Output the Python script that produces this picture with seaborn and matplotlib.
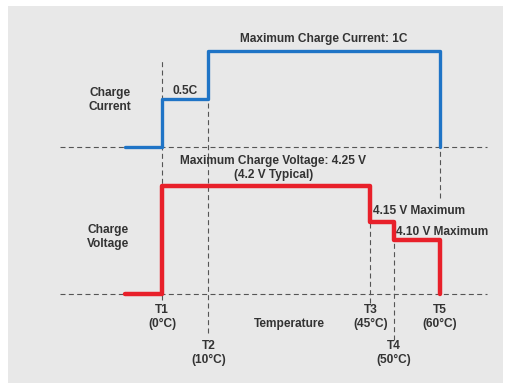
import matplotlib
matplotlib.use("Agg")
import matplotlib.pyplot as plt
import seaborn as sns
import pandas as pd
from matplotlib.patches import Rectangle

# === Datos ===
t_puntos = [0, 10, 45, 50, 60]
t_nombres = ["T1", "T2", "T3", "T4", "T5"]
t_etiquetas = ["(0°C)", "(10°C)", "(45°C)", "(50°C)", "(60°C)"]

corriente_t = [-8, 0, 10, 60]
corriente_c = [0, 0.5, 1, 0]

voltaje_t = [-8, 0, 45, 50, 60]
voltaje_v = [3.95, 4.25, 4.15, 4.10, 3.95]
voltaje_base = 3.95

df_c = pd.DataFrame({"T": corriente_t, "C": corriente_c})
df_v = pd.DataFrame({"T": voltaje_t, "V": voltaje_v})

# === Estilo ===
sns.set_theme(style="white")
plt.rcParams["font.family"] = ["Liberation Sans", "DejaVu Sans"]

W, H = 510, 392
fig = plt.figure(figsize=(W / 100, H / 100), dpi=100)
fig.patches.append(Rectangle((8 / W, 1 - 383 / H), 495 / W, 377 / H,
                             transform=fig.transFigure, facecolor="#e8e8e8",
                             edgecolor="none", zorder=-5))

ax_c = fig.add_axes([0, 0, 1, 1])
ax_v = fig.add_axes([0, 0, 1, 1])
for ax in (ax_c, ax_v):
    ax.set_xlim(-35.0, 75.16)
    ax.patch.set_alpha(0)
ax_c.set_ylim(-2.552, 1.53125)
ax_v.set_ylim(3.6778, 4.7667)

def fy(p):
    return 1 - p / H

gris = "#555555"
guion = (0, (4.5, 3))
txt = dict(fontsize=8.6, fontweight="bold", color="#333333")

# líneas base punteadas
ax_c.hlines(0, -22, 70.2, colors=gris, linestyles=guion, lw=0.8, zorder=1)
ax_v.hlines(voltaje_base, -22, 70.2, colors=gris, linestyles=guion, lw=0.8, zorder=1)

# guías verticales
guias = [(60, 300), (98, 333), (220, 303), (241, 340), (147, 198)]
for t, (p0, p1) in zip(t_puntos, guias):
    ax_c.axvline(t, ymin=fy(p1), ymax=fy(p0), color=gris, ls=guion, lw=0.8, zorder=1)

# === Curvas ===
sns.lineplot(data=df_c, x="T", y="C", ax=ax_c, sort=False, estimator=None,
             drawstyle="steps-post", color="#1f74c6", lw=2.4, zorder=3)
sns.lineplot(data=df_v, x="T", y="V", ax=ax_v, sort=False, estimator=None,
             drawstyle="steps-post", color="#e8202a", lw=3.2, zorder=3)
ax_c.set_xlim(-35.0, 75.16)
ax_v.set_xlim(-35.0, 75.16)
ax_c.set_ylim(-2.552, 1.53125)
ax_v.set_ylim(3.6778, 4.7667)
ax_c.axis("off")
ax_v.axis("off")

tr = ax_c.get_xaxis_transform()

# === Textos ===
ax_c.text(35, fy(39), "Maximum Charge Current: 1C", ha="center", va="center", transform=tr, **txt)
ax_c.text(5, fy(91), "0.5C", ha="center", va="center", transform=tr, **txt)
ax_c.text(-11.2, fy(100), "Charge\nCurrent", ha="center", va="center", transform=tr, **txt)
ax_c.text(24, fy(168), "Maximum Charge Voltage: 4.25 V\n(4.2 V Typical)", ha="center",
          va="center", multialignment="center", transform=tr, **txt)
ax_c.text(-11.7, fy(237), "Charge\nVoltage", ha="center", va="center", transform=tr, **txt)
ax_c.text(45.6, fy(211), "4.15 V Maximum", ha="left", va="center", transform=tr, **txt)
ax_c.text(50.5, fy(232), "4.10 V Maximum", ha="left", va="center", transform=tr, **txt)
ax_c.text(27.4, fy(324), "Temperature", ha="center", va="center", transform=tr, **txt)

for i, (t, n, e) in enumerate(zip(t_puntos, t_nombres, t_etiquetas)):
    p = 317 if i % 2 == 0 else 353
    ax_c.text(t, fy(p), n + "\n" + e, ha="center", va="center", transform=tr, **txt)

fig.savefig("out.png", dpi=100, facecolor="white")
